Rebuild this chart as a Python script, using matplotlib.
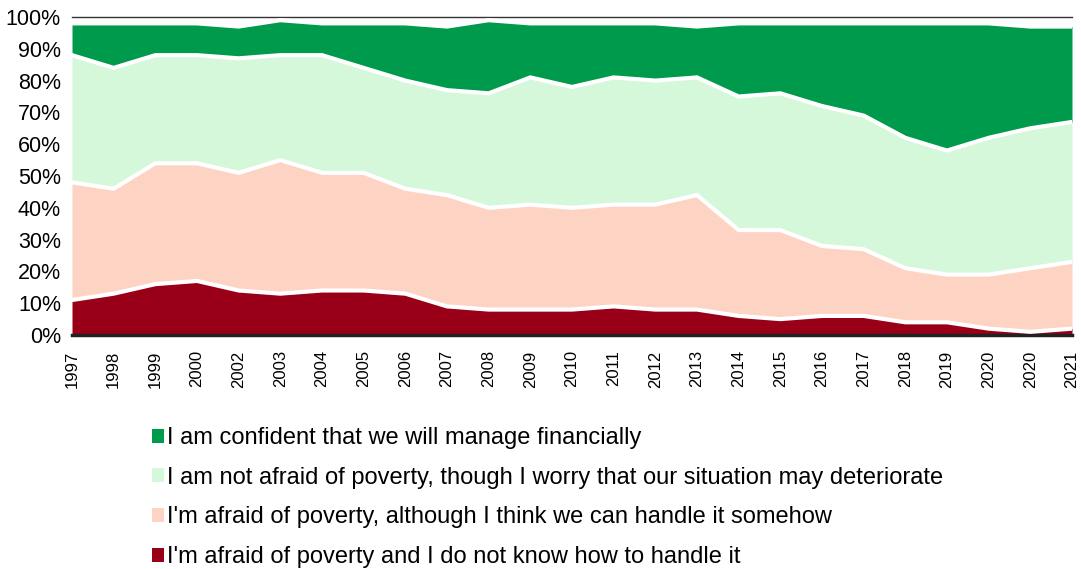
import matplotlib
matplotlib.use('Agg')
import matplotlib.pyplot as plt
import numpy as np
from matplotlib.patches import Patch

plt.rcParams['font.family'] = ['Liberation Sans', 'DejaVu Sans']

# Survey years (2020 appears twice in the source)
years = ['1997', '1998', '1999', '2000', '2002', '2003', '2004', '2005', '2006',
         '2007', '2008', '2009', '2010', '2011', '2012', '2013', '2014', '2015',
         '2016', '2017', '2018', '2019', '2020', '2020', '2021']

# Shares in %
dont_know = [11, 13, 16, 17, 14, 13, 14, 14, 13, 9, 8, 8, 8, 9, 8, 8, 6, 5, 6, 6, 4, 4, 2, 1, 2]
handle_somehow = [37, 33, 38, 37, 37, 42, 37, 37, 33, 35, 32, 33, 32, 32, 33, 36, 27, 28, 22, 21, 17, 15, 17, 20, 21]
not_afraid = [40, 38, 34, 34, 36, 33, 37, 33, 34, 33, 36, 40, 38, 40, 39, 37, 42, 43, 44, 42, 41, 39, 43, 44, 44]
confident = [10, 14, 10, 10, 10, 11, 10, 14, 18, 20, 23, 17, 20, 17, 18, 16, 23, 22, 26, 29, 36, 40, 36, 32, 30]

labels = ['I am confident that we will manage financially',
          'I am not afraid of poverty, though I worry that our situation may deteriorate',
          "I'm afraid of poverty, although I think we can handle it somehow",
          "I'm afraid of poverty and I do not know how to handle it"]
colors = ['#009A4C', '#D5F7DA', '#FDD3C3', '#990018']

fig = plt.figure(figsize=(10.81, 5.69), dpi=100)
ax = fig.add_axes([72 / 1081, 1 - 335 / 569, 1000 / 1081, 318 / 569])

x = np.arange(len(years))
series = [dont_know, handle_somehow, not_afraid, confident]
fills = colors[::-1]
bottom = np.zeros(len(years))
tops = []
for vals, c in zip(series, fills):
    top = bottom + np.array(vals)
    ax.fill_between(x, bottom, top, color=c, lw=0, zorder=1)
    tops.append(top)
    bottom = top

# white separators on top of each band
for top in tops:
    ax.plot(x, top, color='white', lw=3, zorder=3, solid_joinstyle='miter')

ax.set_xlim(0, len(years) - 1)
ax.set_ylim(0, 100)
ax.set_yticks(range(0, 101, 10))
ax.set_yticklabels([f'{v}%' for v in range(0, 101, 10)], fontsize=15.5)
ax.set_xticks(x)
ax.set_xticklabels(years, rotation=90, fontsize=12)
ax.tick_params(length=0)
ax.tick_params(axis='x', pad=11)
ax.tick_params(axis='y', pad=8)

for s in ['left', 'right']:
    ax.spines[s].set_visible(False)
ax.spines['top'].set_color('#333333')
ax.spines['top'].set_linewidth(1)
ax.spines['top'].set_zorder(2)
ax.spines['bottom'].set_color('#222222')
ax.spines['bottom'].set_linewidth(2.5)

handles = [Patch(facecolor=c, edgecolor='none') for c in colors]
fig.legend(handles, labels, loc='upper left', bbox_to_anchor=(152 / 1081, 1 - 427 / 569),
           frameon=False, fontsize=17, handlelength=0.52, handleheight=0.52,
           handletextpad=0.1, labelspacing=0.75, borderaxespad=0, borderpad=0)

fig.savefig('out.png', dpi=100)
